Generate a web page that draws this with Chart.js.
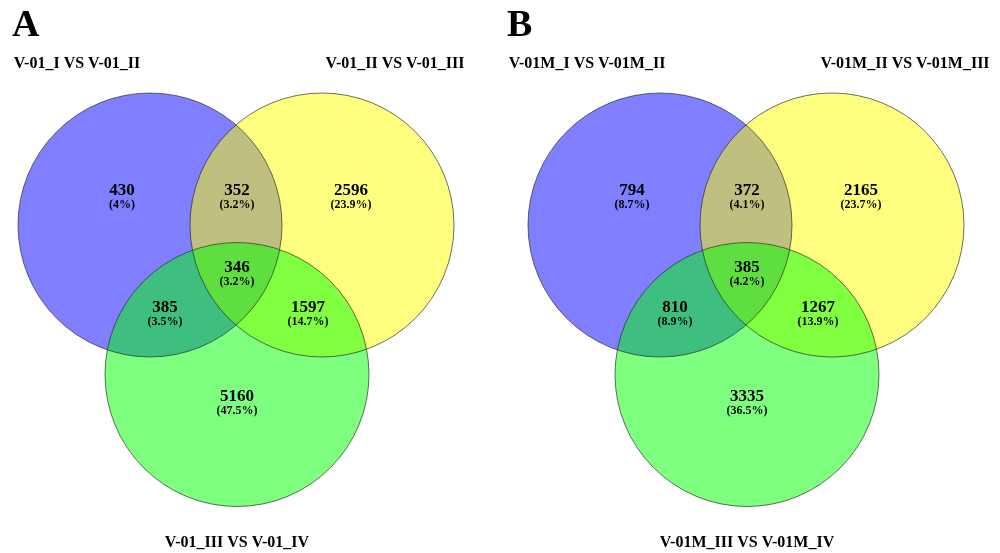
<!DOCTYPE html>
<html>
<head>
<meta charset="utf-8">
<script src="https://cdn.jsdelivr.net/npm/chart.js@4.4.1/dist/chart.umd.min.js"></script>
<style>
  html, body { margin: 0; padding: 0; background: #ffffff; }
  #wrap { width: 1000px; height: 553px; }
</style>
</head>
<body>
<div id="wrap"><canvas id="venn" width="1000" height="553"></canvas></div>
<script>
// Region counts, in the order: I only, I∩II, II only, I∩III, I∩II∩III, II∩III, III only
const countsA = [430, 352, 2596, 385, 346, 1597, 5160];
const countsB = [794, 372, 2165, 810, 385, 1267, 3335];

// Set names per panel (left, right, bottom)
const setNamesA = ['V-01_I VS V-01_II', 'V-01_II VS V-01_III', 'V-01_III VS V-01_IV'];
const setNamesB = ['V-01M_I VS V-01M_II', 'V-01M_II VS V-01M_III', 'V-01M_III VS V-01M_IV'];
const panelLetters = ['A', 'B'];

// Layout (drawing units = pixels on a 1000 x 553 plane)
const panelShift = [0, 510];
const letterX = [12, 507];
const circleR = 132;
const circleCenters = { blue: [150, 225], yellow: [322, 225], green: [237, 374.5] };
const regionAnchors = [[122, 191], [237, 191], [351, 191], [165, 308], [237, 268], [308, 308], [237, 397]];
const nameAnchors = [[77, 64], [395, 64], [237, 543]];

const panels = [
  { counts: countsA, names: setNamesA },
  { counts: countsB, names: setNamesB }
];

function circlePoints(key) {
  return panelShift.map(s => ({ x: circleCenters[key][0] + s, y: circleCenters[key][1] }));
}

function radiusPx(ctx) {
  const sx = ctx.chart.scales.x;
  if (!sx || !ctx.raw) return 0;
  return Math.abs(sx.getPixelForValue(ctx.raw.x + circleR) - sx.getPixelForValue(ctx.raw.x));
}

function fmtPct(v, total) {
  return '(' + parseFloat((v / total * 100).toFixed(1)) + '%)';
}

const labelPlugin = {
  id: 'vennLabels',
  afterDatasetsDraw(chart) {
    const c = chart.ctx, sx = chart.scales.x, sy = chart.scales.y;
    const font = '"Liberation Serif", "Times New Roman", serif';
    c.save();
    c.fillStyle = '#000';
    c.textBaseline = 'middle';
    panels.forEach((p, pi) => {
      const shift = panelShift[pi];
      const total = p.counts.reduce((a, b) => a + b, 0);
      c.textAlign = 'center';
      p.counts.forEach((v, i) => {
        const px = sx.getPixelForValue(regionAnchors[i][0] + shift);
        const py = sy.getPixelForValue(regionAnchors[i][1]);
        c.font = 'bold 17px ' + font;
        c.fillText(String(v), px, py);
        c.font = 'bold 12px ' + font;
        c.fillText(fmtPct(v, total), px, py + 13.5);
      });
      c.font = 'bold 16px ' + font;
      p.names.forEach((n, i) => {
        c.fillText(n, sx.getPixelForValue(nameAnchors[i][0] + shift), sy.getPixelForValue(nameAnchors[i][1]));
      });
      c.textAlign = 'left';
      c.textBaseline = 'alphabetic';
      c.font = 'bold 38px ' + font;
      c.fillText(panelLetters[pi], sx.getPixelForValue(letterX[pi]), sy.getPixelForValue(36));
      c.textBaseline = 'middle';
    });
    c.restore();
  }
};

const fillSet = (key, color, order) => ({
  label: key,
  data: circlePoints(key),
  backgroundColor: color,
  borderWidth: 0,
  pointRadius: radiusPx,
  pointHoverRadius: radiusPx,
  order: order
});

new Chart(document.getElementById('venn'), {
  type: 'scatter',
  data: {
    datasets: [
      fillSet('blue', 'rgba(0,0,255,0.5)', 4),
      fillSet('yellow', 'rgba(255,255,0,0.5)', 3),
      fillSet('green', 'rgba(0,255,0,0.5)', 2),
      {
        label: 'outline',
        data: [...circlePoints('blue'), ...circlePoints('yellow'), ...circlePoints('green')],
        backgroundColor: 'rgba(0,0,0,0)',
        borderColor: 'rgba(40,40,40,0.85)',
        borderWidth: 0.8,
        pointRadius: radiusPx,
        pointHoverRadius: radiusPx,
        order: 1
      }
    ]
  },
  options: {
    responsive: false,
    animation: false,
    events: [],
    layout: { padding: 0 },
    plugins: { legend: { display: false }, tooltip: { enabled: false } },
    scales: {
      x: { type: 'linear', display: false, min: 0, max: 1000 },
      y: { type: 'linear', display: false, min: 0, max: 553, reverse: true }
    }
  },
  plugins: [labelPlugin]
});
</script>
</body>
</html>
